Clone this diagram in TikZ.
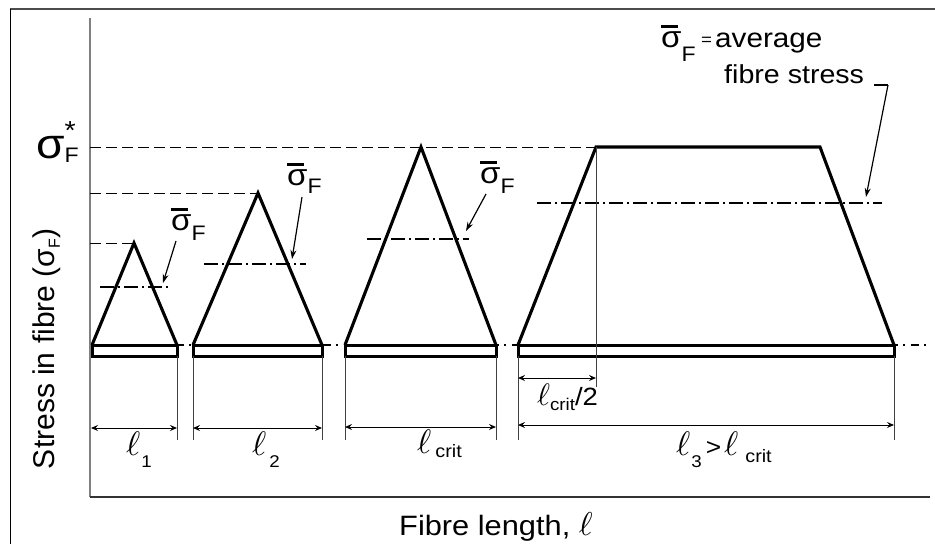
\documentclass[tikz,border=0pt]{standalone}
\usepackage{graphicx}
\usepackage{fontspec}
\setmainfont{Liberation Sans}[FakeStretch=1.1]
\newfontfamily\plainsans{Liberation Sans}
\usetikzlibrary{arrows.meta}
\newcommand\fs[1]{\fontsize{#1}{#1}\selectfont}
\newcommand\ellx[1]{\scalebox{#1}{\fontsize{10}{10}\selectfont$\ell$}}
\newcommand\sigb{\makebox[0pt][l]{\raisebox{0.62em}{\rule{0.55em}{0.1em}}}σ}
\begin{document}
\begin{tikzpicture}[x=1pt,y=-1pt,
  shapeline/.style={line width=3.1pt,line join=miter},
  fibre/.style={line width=3pt,fill=white},
  avgline/.style={line width=1.4pt,dash pattern=on 14pt off 4pt on 2pt off 4pt},
  guide/.style={line width=0.9pt,dash pattern=on 11pt off 5pt},
  extline/.style={line width=0.9pt,black!75},
  dimarrow/.style={line width=1pt,{Stealth[length=7pt,width=6pt,inset=2.5pt]}-{Stealth[length=7pt,width=6pt,inset=2.5pt]}},
  leader/.style={line width=1.2pt,-{Stealth[length=9pt,width=6pt]}},
  lbl/.style={anchor=base west,inner sep=0pt}]
\useasboundingbox (0,0) rectangle (935,544);
% frame and axes
\coordinate (fTL) at (10,9);
\coordinate (fTR) at (935,9);
\coordinate (fBL) at (10,544);
\draw[line width=1.5pt,black!70] (fTL) -- (fTR);
\draw[line width=1pt] (fTL) -- (fBL);
\coordinate (yTop) at (90,18);
\coordinate (org) at (90,497);
\coordinate (xEnd) at (930,497);
\draw[line width=2pt,black!50] (yTop) -- (org);
\draw[line width=2pt,black!80] (org) -- (xEnd);
% key points
\coordinate (a1) at (134,243);
\coordinate (a2) at (258,193);
\coordinate (a3) at (421,147);
\coordinate (tl) at (596,147);
\coordinate (tr) at (820,147);
\coordinate (g1) at (90,243);
\coordinate (g2) at (90,193);
\coordinate (g3) at (90,147);
% guide lines
\draw[guide] (g3) -- (tl);
\draw[guide] (g2) -- (a2);
\draw[guide] (g1) -- (a1);
% baseline
\coordinate (b0) at (92,345);
\coordinate (bEnd) at (926,345);
\draw[avgline,line width=1.2pt,dash pattern=on 8pt off 5pt on 2pt off 6pt] (b0) -- (bEnd);
% fibres
\coordinate (f1l) at (92,345); \coordinate (f1r) at (177,356);
\coordinate (f2l) at (193,345); \coordinate (f2r) at (322,356);
\coordinate (f3l) at (345,345); \coordinate (f3r) at (496,356);
\coordinate (f4l) at (518,345); \coordinate (f4r) at (894,356);
\draw[fibre] (f1l) rectangle (f1r);
\draw[fibre] (f2l) rectangle (f2r);
\draw[fibre] (f3l) rectangle (f3r);
\draw[fibre] (f4l) rectangle (f4r);
% stress profiles
\draw[shapeline] (f1l) -- (a1) -- (f1r |- f1l);
\draw[shapeline] (f2l) -- (a2) -- (f2r |- f2l);
\draw[shapeline] (f3l) -- (a3) -- (f3r |- f3l);
\draw[shapeline] (f4l) -- (tl) -- (tr) -- (f4r |- f4l);
% average lines
\coordinate (m1l) at (100,287); \coordinate (m1r) at (168,287);
\coordinate (m2l) at (204,264); \coordinate (m2r) at (306,264);
\coordinate (m3l) at (367,239); \coordinate (m3r) at (469,239);
\coordinate (m4l) at (537,203); \coordinate (m4r) at (882,203);
\draw[avgline] (m1l) -- (m1r);
\draw[avgline] (m2l) -- (m2r);
\draw[avgline] (m3l) -- (m3r);
\draw[avgline] (m4l) -- (m4r);
% extension lines
\coordinate (e1) at (177,440);
\coordinate (e2a) at (193,440); \coordinate (e2b) at (322,440);
\coordinate (e3a) at (345,440); \coordinate (e3b) at (496,440);
\coordinate (e4a) at (518,440); \coordinate (e4b) at (894,440);
\coordinate (eh) at (596,387);
\draw[extline] (f1r) -- (e1);
\draw[extline] (f2l |- f2r) -- (e2a);
\draw[extline] (f2r) -- (e2b);
\draw[extline] (f3l |- f3r) -- (e3a);
\draw[extline] (f3r) -- (e3b);
\draw[extline] (f4l |- f4r) -- (e4a);
\draw[extline] (f4r) -- (e4b);
\draw[extline] (tl) -- (eh);
% dimension arrows
\coordinate (d1a) at (91,428); \coordinate (d1b) at (177,428);
\coordinate (d2a) at (193,428); \coordinate (d2b) at (322,428);
\coordinate (d3a) at (345,427); \coordinate (d3b) at (496,427);
\coordinate (d4a) at (518,425); \coordinate (d4b) at (894,425);
\coordinate (dha) at (518,378); \coordinate (dhb) at (596,378);
\draw[dimarrow] (d1a) -- (d1b);
\draw[dimarrow] (d2a) -- (d2b);
\draw[dimarrow] (d3a) -- (d3b);
\draw[dimarrow] (d4a) -- (d4b);
\draw[dimarrow] (dha) -- (dhb);
% sigma-bar labels and leaders
\node[lbl] (s1) at (171,230) {\fs{30}\sigb\raisebox{-10pt}{\fs{21}F}};
\node[lbl] (s2) at (287,185) {\fs{30}\sigb\raisebox{-8pt}{\fs{21}F}};
\node[lbl] (s3) at (480,183) {\fs{30}\sigb\raisebox{-10pt}{\fs{21}F}};
\coordinate (l1a) at (176,241); \coordinate (l1b) at (163,283);
\coordinate (l2a) at (302,197); \coordinate (l2b) at (292,259);
\coordinate (l3a) at (486,194); \coordinate (l3b) at (466,231);
\draw[leader] (l1a) -- (l1b);
\draw[leader] (l2a) -- (l2b);
\draw[leader] (l3a) -- (l3b);
% legend
\node[lbl] (lgS) at (661,47) {\fs{30}\sigb\raisebox{-14pt}{\fs{21}F}};
\node[lbl] (lgEq) at (701,45) {\fs{17}=};
\node[lbl] (lgA) at (715,47) {\fs{27}average};
\node[lbl] (lgB) at (724,83) {\fs{26}fibre stress};
\coordinate (lgk1) at (874,85); \coordinate (lgk2) at (888,85); \coordinate (lgk3) at (866,197);
\draw[line width=1.2pt] (lgk1) -- (lgk2);
\draw[leader] (lgk2) -- (lgk3);
% sigma F star
\node[lbl] (sst) at (36,158) {\fs{42}σ\rlap{\raisebox{19pt}{\fs{26}*}}\raisebox{-4pt}{\fs{21}F}};
% dimension labels
\node[lbl] (dl1) at (126,455) {\ellx{3.4}\hspace{1pt}\raisebox{-12pt}{\fs{17}1}};
\node[lbl] (dl2) at (252,455) {\ellx{3.4}\hspace{3pt}\raisebox{-12pt}{\fs{17}2}};
\node[lbl] (dl3) at (417,453) {\ellx{3.4}\hspace{4pt}\raisebox{-4pt}{\fs{18}crit}};
\node[lbl] (dlh) at (537,405) {\ellx{3.1}\raisebox{-5pt}{\fs{17}crit}\fs{25}/2};
\node[lbl] (dl4) at (676,455) {\ellx{3.4}\hspace{1pt}\raisebox{-12pt}{\fs{17}3}\hspace{4pt}\fs{24}>\hspace{3pt}\ellx{3.4}\hspace{7pt}\raisebox{-7pt}{\fs{18}crit}};
% axis labels
\node[rotate=90] (ylab) at (47,349) {\plainsans\fs{30}Stress in fibre (σ\raisebox{-5pt}{\fs{16}F})};
\node[lbl] (xlab) at (399,535) {\fs{28}Fibre length, \ellx{3.3}};
\end{tikzpicture}
\end{document}
